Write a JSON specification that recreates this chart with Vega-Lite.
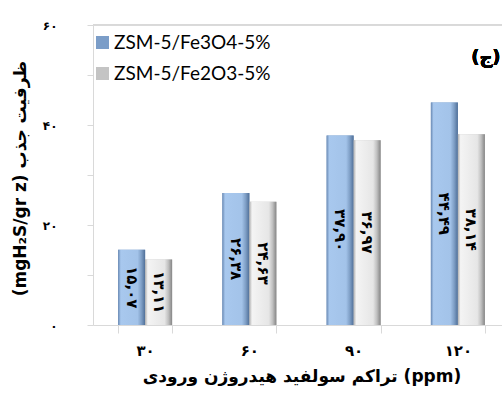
{
  "$schema": "https://vega.github.io/schema/vega-lite/v6.json",
  "autosize": "none",
  "width": 409,
  "height": 300,
  "padding": {"left": 93, "top": 25, "right": 0, "bottom": 82},
  "background": "white",
  "config": {"view": {"stroke": null}},
  "data": {"values": [
    {"c": "۳۰", "s": "ZSM-5/Fe3O4-5%", "v": 15.07, "lab": "۱۵,۰۷"},
    {"c": "۳۰", "s": "ZSM-5/Fe2O3-5%", "v": 13.11, "lab": "۱۳,۱۱"},
    {"c": "۶۰", "s": "ZSM-5/Fe3O4-5%", "v": 26.38, "lab": "۲۶,۳۸"},
    {"c": "۶۰", "s": "ZSM-5/Fe2O3-5%", "v": 24.63, "lab": "۲۴,۶۳"},
    {"c": "۹۰", "s": "ZSM-5/Fe3O4-5%", "v": 37.9, "lab": "۳۷,۹۰"},
    {"c": "۹۰", "s": "ZSM-5/Fe2O3-5%", "v": 36.97, "lab": "۳۶,۹۷"},
    {"c": "۱۲۰", "s": "ZSM-5/Fe3O4-5%", "v": 44.49, "lab": "۴۴,۴۹"},
    {"c": "۱۲۰", "s": "ZSM-5/Fe2O3-5%", "v": 38.14, "lab": "۳۸,۱۴"}
  ]},
  "encoding": {
    "x": {"field": "c", "type": "nominal", "sort": ["۳۰", "۶۰", "۹۰", "۱۲۰"],
      "scale": {"range": [0, 417], "paddingInner": 0.482, "paddingOuter": 0.241},
      "axis": {"title": "\u200eتراکم سولفید هیدروژن ورودی (ppm)", "labelAngle": 0, "grid": false,
        "domainColor": "#d9d9d9", "tickColor": "#d9d9d9", "tickSize": 8, "tickBand": "extent",
        "labelFont": "DejaVu Sans", "labelFontWeight": "bold", "labelFontSize": 15, "labelColor": "black", "labelPadding": 10,
        "titleFont": "DejaVu Sans", "titleFontWeight": "bold", "titleFontSize": 17, "titleColor": "black", "titlePadding": 10}},
    "xOffset": {"field": "s", "type": "nominal", "sort": ["ZSM-5/Fe3O4-5%", "ZSM-5/Fe2O3-5%"]}
  },
  "layer": [
    {
      "layer": [
        {
          "mark": {"type": "rule", "color": "#d9d9d9"},
          "encoding": {"x": null, "xOffset": null, "y": {"datum": 60, "type": "quantitative", "scale": {"domain": [0, 60]}}}
        },
        {
          "mark": {"type": "bar"},
          "encoding": {
            "y": {"field": "v", "type": "quantitative", "scale": {"domain": [0, 60]},
              "axis": {"title": "(mgH₂S/gr z) ظرفیت جذب", "values": [0, 10, 20, 30, 40, 50, 60],
                "labelExpr": "datum.value == 0 ? '۰' : datum.value == 20 ? '۲۰' : datum.value == 40 ? '۴۰' : datum.value == 60 ? '۶۰' : ''",
                "grid": false, "domainColor": "#d9d9d9", "tickColor": "#d9d9d9", "tickSize": 6,
                "labelFont": "DejaVu Sans", "labelFontWeight": "bold", "labelFontSize": 12, "labelColor": "black", "labelPadding": 30,
                "titleFont": "DejaVu Sans", "titleFontWeight": "bold", "titleFontSize": 17, "titleColor": "black",
                "titleX": -73, "titleY": 153, "titleAngle": -90, "titleAlign": "center", "titleBaseline": "middle"}},
            "fill": {"field": "s", "type": "nominal",
              "scale": {"domain": ["ZSM-5/Fe3O4-5%", "ZSM-5/Fe2O3-5%"], "range": ["#7b9dc8", "#c4c4c4"]},
              "legend": {"title": null, "orient": "none", "legendX": 0, "legendY": 8, "symbolType": "square", "symbolSize": 169,
                "labelFont": "Lato", "labelFontSize": 19, "labelColor": "black", "rowPadding": 11, "labelOffset": 2, "padding": 0,
                "symbolStrokeWidth": 0}}
          }
        },
        {
          "transform": [{"filter": "datum.s === 'ZSM-5/Fe3O4-5%'"}],
          "mark": {"type": "bar", "fill": {"gradient": "linear", "x1": 0, "y1": 0, "x2": 1, "y2": 0, "stops": [{"offset": 0, "color": "#6a8ab4"}, {"offset": 0.1, "color": "#a8c8ee"}, {"offset": 0.72, "color": "#a3c3e9"}, {"offset": 0.86, "color": "#7f9fc6"}, {"offset": 1, "color": "#4f6f98"}]}},
          "encoding": {
            "y": {"field": "v", "type": "quantitative", "scale": {"domain": [0, 60]}}
          }
        },
        {
          "transform": [{"filter": "datum.s === 'ZSM-5/Fe2O3-5%'"}],
          "mark": {"type": "bar", "fill": {"gradient": "linear", "x1": 0, "y1": 0, "x2": 1, "y2": 0, "stops": [{"offset": 0, "color": "#b0b0b0"}, {"offset": 0.1, "color": "#f4f4f4"}, {"offset": 0.72, "color": "#e6e6e6"}, {"offset": 0.86, "color": "#c0c0c0"}, {"offset": 1, "color": "#858585"}]}},
          "encoding": {
            "y": {"field": "v", "type": "quantitative", "scale": {"domain": [0, 60]}}
          }
        },
        {
          "mark": {"type": "text", "text": "(ج)", "font": "DejaVu Sans", "fontWeight": "bold", "fontSize": 18, "color": "black", "dx": 28},
          "encoding": {"x": {"datum": "۱۲۰"}, "xOffset": null, "y": {"datum": 53.4, "type": "quantitative", "scale": {"domain": [0, 60]}}}
        }
      ]
    },
    {
      "mark": {"type": "text", "angle": 90, "font": "DejaVu Sans", "fontWeight": "bold", "fontSize": 15, "color": "black", "align": "center", "baseline": "middle"},
      "encoding": {
        "y": {"field": "v", "type": "quantitative", "scale": {"domain": [0, 120]}, "axis": null},
        "text": {"field": "lab"}
      }
    }
  ],
  "resolve": {"scale": {"y": "independent"}}
}
